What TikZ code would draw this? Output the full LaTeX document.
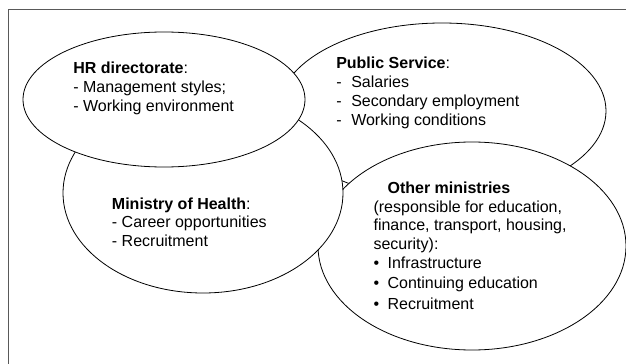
\documentclass[tikz,border=0pt]{standalone}
\usepackage{fontspec}
\setmainfont{Liberation Sans}
\usetikzlibrary{shapes.geometric}

\newcommand{\pxu}{0.75pt}
\newcommand{\dashitem}[1]{\makebox[11.25pt][l]{-}#1}
\newcommand{\bulitem}[1]{\makebox[10.5pt][l]{\textbullet}#1}

\tikzset{
  blob/.style={ellipse,draw,fill=white,line width=0.6pt,inner sep=0pt},
  % anchored at the baseline of the last line
  txt/.style={anchor=base west,align=left,inner sep=0pt,
    font=\fontsize{12pt}{14.1pt}\selectfont},
  frame/.style={draw=black!65,line width=1.3pt}
}

\begin{document}
\begin{tikzpicture}[x=0.75pt,y=-0.75pt]
\useasboundingbox (0,0) rectangle (626,364);
\draw[frame] (8.5,370) -- (8.5,9.5) -- (640,9.5);

% back to front
\node[blob,minimum width=328*\pxu,minimum height=176*\pxu] (ps) at (442,111) {};
\node[txt] (pstxt) at (336,125) {\textbf{Public Service}:\\
  \dashitem{Salaries}\\
  \dashitem{Secondary employment}\\
  \dashitem{Working conditions}};

\node[blob,minimum width=308*\pxu,minimum height=208*\pxu] (om) at (472,246) {};
\node[txt] (omtxt) at (373.3,309.3) {\hspace*{10.5pt}\textbf{Other ministries}\\
  (responsible for education,\\
  finance, transport, housing,\\
  security):\\
  \bulitem{Infrastructure}\\[1.2pt]
  \bulitem{Continuing education}\\[1.2pt]
  \bulitem{Recruitment}};

\node[blob,minimum width=280*\pxu,minimum height=200*\pxu] (moh) at (203,193) {};
\node[txt] (mohtxt) at (111.7,246.7) {\textbf{Ministry of Health}:\\
  - Career opportunities\\
  - Recruitment};

\node[blob,minimum width=282*\pxu,minimum height=135*\pxu] (hr) at (164,99.5) {};
\node[txt] (hrtxt) at (73,111) {\textbf{HR directorate}:\\
  - Management styles;\\
  - Working environment};
\end{tikzpicture}
\end{document}
